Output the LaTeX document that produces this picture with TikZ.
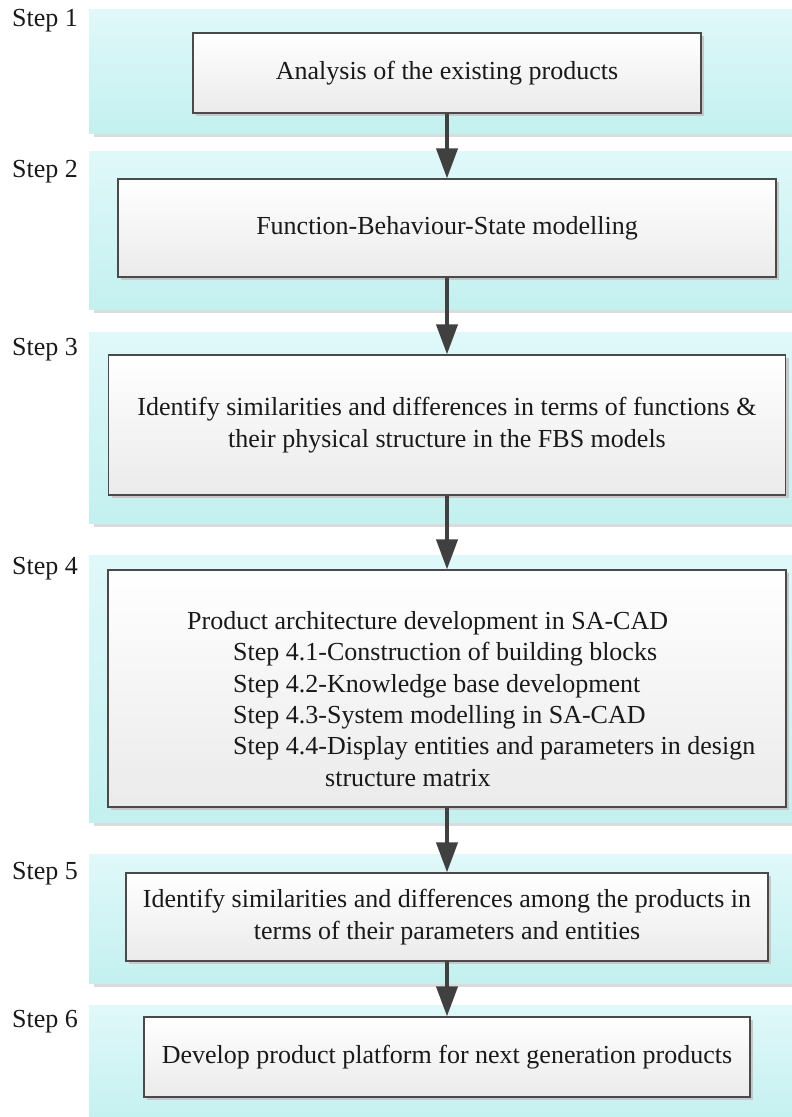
\documentclass[tikz,border=0pt]{standalone}
\usepackage{fontspec}
\setmainfont{Liberation Serif}
\usetikzlibrary{arrows.meta,shadows}

\definecolor{bandtop}{HTML}{E0F8F9}
\definecolor{bandbot}{HTML}{C4F0F0}
\definecolor{boxline}{HTML}{4A4A4A}
\definecolor{flowgray}{HTML}{404040}

\tikzset{
  txt/.style={font=\fontsize{26}{31.4}\selectfont, text=black!90},
  band/.style={top color=bandtop, bottom color=bandbot, draw=none,
    drop shadow={shadow xshift=5pt, shadow yshift=-4pt, fill=black!14, opacity=1}},
  procbox/.style={txt, draw=boxline, line width=1.2pt, top color=white, bottom color=black!8,
    align=center, inner sep=0pt,
    drop shadow={shadow xshift=3pt, shadow yshift=-3pt, fill=black!22, opacity=1}},
  steplabel/.style={txt, anchor=west, inner sep=0pt},
  flow/.style={draw=flowgray, line width=4pt, -{Triangle[width=21pt,length=30pt]}, shorten >=0pt}
}

\begin{document}
\begin{tikzpicture}[x=1pt,y=-1pt]
\useasboundingbox (0,0) rectangle (792,1117);
\fill[white] (0,0) rectangle (792,1117);

% cyan bands, one per step
\path[band] (89,9)    rectangle (800,133);
\path[band] (89,151)  rectangle (800,309);
\path[band] (89,332)  rectangle (800,523);
\path[band] (89,555)  rectangle (800,822);
\path[band] (89,854)  rectangle (800,983);
\path[band] (89,1005) rectangle (800,1125);

% step labels
\node[steplabel] (s1) at (12,21)   {Step 1};
\node[steplabel] (s2) at (12,172)  {Step 2};
\node[steplabel] (s3) at (12,350)  {Step 3};
\node[steplabel] (s4) at (12,569)  {Step 4};
\node[steplabel] (s5) at (12,874)  {Step 5};
\node[steplabel] (s6) at (12,1022) {Step 6};

% process boxes
\node[procbox, minimum width=508pt, minimum height=80pt] (b1) at (447,73)
  {Analysis of the existing products};
\node[procbox, minimum width=658pt, minimum height=98pt] (b2) at (447,228)
  {Function-Behaviour-State modelling};
\node[procbox, minimum width=677pt, minimum height=140pt] (b3) at (447,425)
  {Identify similarities and differences in terms of functions \&\\their physical structure in the FBS models};
\node[procbox, minimum width=678pt, minimum height=237pt] (b4) at (447,688.5) {};
\node[txt, anchor=north west, align=left, inner sep=0pt] (b4t) at (187,611)
  {Product architecture development in SA-CAD\\
   \hspace*{46pt}Step 4.1-Construction of building blocks\\
   \hspace*{46pt}Step 4.2-Knowledge base development\\
   \hspace*{46pt}Step 4.3-System modelling in SA-CAD\\
   \hspace*{46pt}Step 4.4-Display entities and parameters in design\\
   \hspace*{138pt}structure matrix};
\node[procbox, minimum width=642pt, minimum height=88pt] (b5) at (447,917)
  {Identify similarities and differences among the products in\\terms of their parameters and entities};
\node[procbox, minimum width=606pt, minimum height=80pt] (b6) at (447,1057)
  {Develop product platform for next generation products};

% flow arrows
\draw[flow] (b1) -- (b2);
\draw[flow] (b2) -- (b3);
\draw[flow] (b3) -- (b4);
\draw[flow] (b4) -- (b5);
\draw[flow] (b5) -- (b6);
\end{tikzpicture}
\end{document}
